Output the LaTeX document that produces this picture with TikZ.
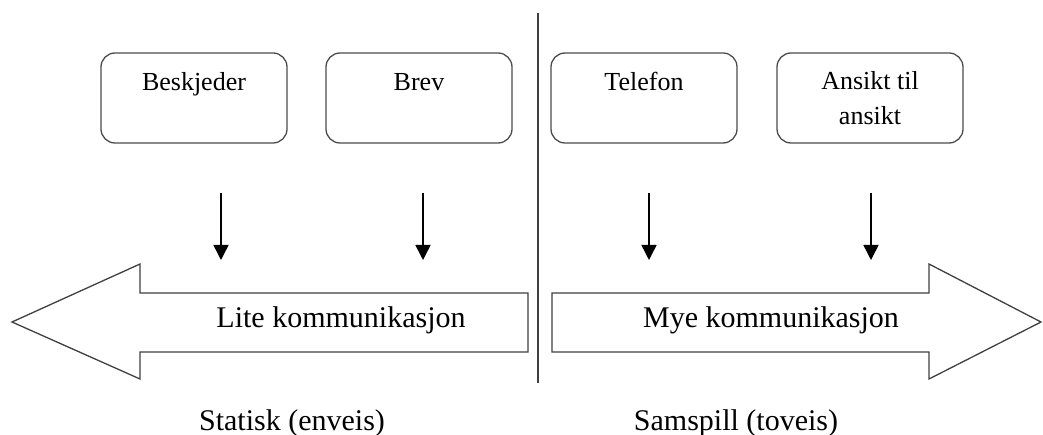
\documentclass[tikz,border=0pt]{standalone}
\usepackage{fontspec}
\setmainfont{Liberation Serif}
\usetikzlibrary{arrows.meta}
\begin{document}
\begin{tikzpicture}[x=1pt,y=-1pt,
  mbox/.style={draw=black!70, line width=1.3pt, rounded corners=14pt, minimum width=186pt, minimum height=90pt, inner sep=0pt},
  btext/.style={font=\fontsize{26}{35}\selectfont, align=center, inner sep=0pt, anchor=base},
  bigtext/.style={font=\fontsize{30}{36}\selectfont, inner sep=0pt, anchor=base},
  bigarrow/.style={draw=black!75, line width=1.3pt, fill=white},
  smallarrow/.style={draw=black, line width=1.5pt, -{Triangle[length=15pt,width=15pt]}},
  divider/.style={draw=black!75, line width=1.6pt}]
\useasboundingbox (0,0) rectangle (1043,435);
% boxes
\node[mbox] (b1) at (194,98) {};
\node[mbox] (b2) at (419,98) {};
\node[mbox] (b3) at (644,98) {};
\node[mbox] (b4) at (870,98) {};
\node[btext] (t1) at (194,91) {Beskjeder};
\node[btext] (t2) at (419,91) {Brev};
\node[btext] (t3) at (644,91) {Telefon};
\node[btext] (t4) at (870,125) {Ansikt til\\ansikt};
% divider
\coordinate (dtop) at (538,13);
\coordinate (dbot) at (538,383);
\draw[divider] (dtop) -- (dbot);
% big arrows
\draw[bigarrow] (528,293) -- (140,293) -- (140,264) -- (12,322) -- (140,379) -- (140,352) -- (528,352) -- cycle;
\draw[bigarrow] (552,293) -- (929,293) -- (929,264) -- (1041,322) -- (929,379) -- (929,352) -- (552,352) -- cycle;
\node[bigtext] (lite) at (341,327) {Lite kommunikasjon};
\node[bigtext] (mye) at (771,327) {Mye kommunikasjon};
% small arrows
\coordinate (a1s) at (221,193); \coordinate (a1e) at (221,260);
\coordinate (a2s) at (423,193); \coordinate (a2e) at (423,260);
\coordinate (a3s) at (649,193); \coordinate (a3e) at (649,260);
\coordinate (a4s) at (871,193); \coordinate (a4e) at (871,260);
\draw[smallarrow] (a1s) -- (a1e);
\draw[smallarrow] (a2s) -- (a2e);
\draw[smallarrow] (a3s) -- (a3e);
\draw[smallarrow] (a4s) -- (a4e);
% bottom labels
\node[bigtext] (stat) at (292,430) {Statisk (enveis)};
\node[bigtext] (samp) at (736,430) {Samspill (toveis)};
\end{tikzpicture}
\end{document}
